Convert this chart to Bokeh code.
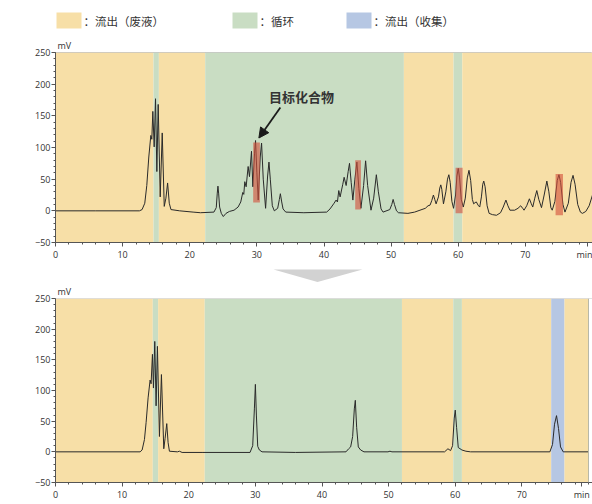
from bokeh.plotting import figure
from bokeh.layouts import column
from bokeh.models import Range1d, SingleIntervalTicker, FixedTicker, Arrow, NormalHead, Span, AllLabels
from bokeh.core.properties import value
from bokeh.embed import file_html
from bokeh.resources import INLINE

# ---------------- data ----------------
legend_labels = ["：流出（废液）", "：循环", "：流出（收集）"]
region_colors = ["#F7DFA7", "#C9DDC3", "#B6C7E3"]  # waste, cycle, collect

y_min, y_max = -50, 250
x_min, x_max = 0, 80
x_major = [0, 10, 20, 30, 40, 50, 60, 70]
x_minor = [2, 4, 6, 8, 12, 14, 16, 18, 22, 24, 26, 28, 32, 34, 36, 38, 42, 44, 46, 48,
           52, 54, 56, 58, 62, 64, 66, 68, 72, 74, 76, 78, 80]
unit_label = "min"
unit_label_pos_top = 79.2
unit_label_pos_bot = 79.0

# top chromatogram (min, mV)
top_t = [0, 6, 12.5, 12.9, 13.3, 13.6, 13.9, 14.2, 14.35, 14.5, 14.7, 14.9, 15.1, 15.3, 15.6, 15.9,
         16.2, 16.45, 16.7, 16.95, 17.2, 18.5, 20.5, 21.6,
         23.6, 23.95, 24.1, 24.2, 24.3, 24.45, 24.7, 25.0, 25.4, 25.9, 26.6, 27.2, 27.6, 27.9, 28.05,
         28.2, 28.4, 28.7, 28.9, 29.2, 29.4, 29.65, 29.8, 30.0, 30.2, 30.5, 30.7, 30.95, 31.3, 31.6,
         31.8, 32.0, 32.3, 32.6, 33.1, 33.35, 33.5, 33.7, 33.9, 34.3, 37,
         40.4, 40.9, 41.5, 41.8, 42.0, 42.2, 42.4, 42.8, 43.0, 43.3, 43.6, 43.8, 44.05, 44.3, 44.6,
         44.9, 45.2, 45.5, 45.9, 46.2, 46.5, 47.0, 47.4, 47.8, 48.1, 48.5, 48.8, 49.8, 50.1, 50.3,
         50.5, 50.8, 51.1,
         52.5, 53.5, 54.3, 55.1, 55.5, 55.8, 56.05, 56.3, 56.5, 56.7, 57.05, 57.25, 57.4, 57.55, 57.8,
         58.15, 58.4, 58.6, 58.8, 59.05, 59.3, 59.6, 59.8, 60.0, 60.2, 60.45, 60.75, 61.05, 61.35,
         61.6, 61.85, 62.1, 62.3, 62.5, 62.7, 62.95, 63.2, 63.45, 63.65, 63.8, 64.0, 64.3, 64.6,
         65.1, 65.7, 66.3, 66.7, 67.1, 67.4, 67.7, 68.4, 68.9, 69.3, 69.6, 69.8, 70.2, 70.6, 70.85,
         71.1, 71.4, 71.7, 72.0, 72.4, 72.8, 73.2, 73.5, 73.8, 74.0, 74.4, 74.75, 75.0, 75.25, 75.6,
         75.9, 76.4, 76.8, 77.1, 77.4, 77.8, 78.2, 78.5, 79.0, 79.5, 80]
top_v = [0, 0, 0, 2, 12, 40, 85, 119, 113, 157, 101, 177, 62, 168, 22, 123,
         7, 20, 44, 12, 2, 0, -2, -3,
         -2, 5, 28, 39, 28, 6, -4, -9, -4, -1, 1, 6, 14, 29, 26,
         46, 38, 70, 54, 94, 38, 90, 111, 60, 17, 85, 107, 50, 4, 55,
         77, 50, 8, 0, 4, 18, 27, 14, 3, -2, -3,
         -2, 3, 12, 17, 14, 32, 22, 42, 53, 40, 62, 75, 45, 17, 50,
         77, 35, 4, 40, 79, 40, 1, 20, 57, 30, 3, -2, 2, 10, 18,
         10, 0, -3,
         -4, -2, 1, 4, 8, 9, 16, 25, 18, 11, 22, 36, 41, 34, 11,
         30, 50, 57, 45, 15, 4, 25, 55, 67, 52, 18, 6, 20, 52,
         64, 48, 18, 11, 13, 14, 9, 6, 22, 42, 47, 38, 8, -4,
         -6, -7, -3, 6, 17, 8, 1, 1, 4, 8, 4, 1, 8, 19, 12,
         6, 20, 32, 18, 5, 25, 47, 30, 5, 1, 15, 48, 57, 45, 10,
         -2, 12, 45, 56, 42, 10, -2, -4, -1, 8, 25]

# top chart background segments (0 waste, 1 cycle)
top_seg_start = [0, 14.6, 15.4, 22.3, 51.9, 59.3, 60.6]
top_seg_end = [14.6, 15.4, 22.3, 51.9, 59.3, 60.6, 80]
top_seg_kind = [0, 1, 0, 1, 0, 1, 0]

# highlighted target peaks
hl_start = [29.45, 44.65, 59.6, 74.5]
hl_end = [30.45, 45.5, 60.65, 75.6]
hl_bottom = [13, 2, -4, -7]
hl_top = [108, 80, 68, 58]

annot_text = "目标化合物"
annot_t, annot_v = 31.8, 181
arrow_from = (33.5, 163)
arrow_to = (30.3, 115)

# bottom chromatogram
bot_t = [0, 12.7, 13.0, 13.35, 13.6, 13.9, 14.2, 14.35, 14.55, 14.7, 14.9, 15.1, 15.3, 15.6, 15.9,
         16.25, 16.45, 16.7, 16.9, 17.1, 18.3, 18.6, 19.0, 22, 29.2, 29.6, 29.85, 30.0, 30.15, 30.35,
         30.6, 31.0, 36, 43.6, 44.0, 44.3, 44.6, 44.85, 45.0, 45.2, 45.45, 45.8, 46.3, 49.9, 50.2,
         50.5, 58.4, 58.9, 59.3, 59.6, 59.85, 60.0, 60.2, 60.45, 61.0, 61.6, 62.3, 74.2, 74.6, 74.9,
         75.2, 75.5, 75.8, 76.2, 80]
bot_v = [0, 0, 3, 20, 48, 88, 117, 111, 159, 104, 180, 75, 172, 25, 126,
         5, 22, 46, 15, 1, 0, 1, -1, -1, -1, 10, 70, 110, 60, 9,
         3, 0, -1, 0, 5, 8, 25, 70, 84, 40, 8, 3, 0, 0, 1,
         0, 0, 5, 2, 10, 55, 68, 40, 7, 3, 1, 0, 0, 12, 45,
         59, 38, 8, 0, 0]

bot_seg_start = [0, 14.6, 15.4, 22.4, 52.0, 59.7, 61.0, 74.4, 76.4]
bot_seg_end = [14.6, 15.4, 22.4, 52.0, 59.7, 61.0, 74.4, 76.4, 80]
bot_seg_kind = [0, 1, 0, 1, 0, 1, 0, 2, 0]
bot_x_view_end = 80.6  # bottom panel shows a little white past 80 min

TICK_FONT = "Open Sans"
CJK_FONT = "Noto Sans CJK SC"
W = 592
FRAME_LEFT = 55


def style_axes(p, label_pos):
    for ax in (p.xaxis[0], p.yaxis[0]):
        ax.axis_line_color = "#555555"
        ax.major_tick_line_color = "#555555"
        ax.minor_tick_line_color = "#555555"
        ax.major_tick_in = 0
        ax.major_tick_out = 4
        ax.minor_tick_in = 0
        ax.minor_tick_out = 2
        ax.major_label_text_font = TICK_FONT
        ax.major_label_text_font_size = "9px"
        ax.major_label_text_color = "#333333"
        ax.major_label_standoff = 1
        ax.major_label_policy = AllLabels()
    p.xaxis.ticker = FixedTicker(ticks=x_major + [label_pos], minor_ticks=x_minor)
    p.yaxis.ticker = SingleIntervalTicker(interval=50, num_minor_ticks=5)
    p.xaxis.major_label_overrides = {label_pos: unit_label}
    p.xgrid.visible = False
    p.ygrid.visible = False


def make_chart(height, btop, bbottom, t, v, s, e, k, x_end, label_pos):
    p = figure(width=W, height=height, x_range=Range1d(x_min, x_end), y_range=Range1d(y_min, y_max),
               output_backend="svg", toolbar_location=None, title="mV",
               min_border_left=FRAME_LEFT, min_border_right=0, min_border_top=btop,
               min_border_bottom=bbottom)
    p.title.text_font = TICK_FONT
    p.title.text_font_size = "9px"
    p.title.text_font_style = "normal"
    p.title.text_color = "#333333"
    p.title.align = "left"
    p.title.offset = 2
    p.title.standoff = 1
    p.quad(left=s, right=e, bottom=y_min, top=y_max,
           fill_color=[region_colors[i] for i in k], line_color=None)
    p.line(t, v, line_color="#2a2a2a", line_width=1)
    style_axes(p, label_pos)
    return p


# ---------------- header (legend) ----------------
HDR_H = 36
hdr = figure(width=W, height=HDR_H, x_range=Range1d(FRAME_LEFT, W), y_range=Range1d(0, HDR_H),
             output_backend="svg", toolbar_location=None, title=None,
             x_axis_type=None, y_axis_type=None, min_border=0)
hdr.outline_line_color = None
hdr.xgrid.visible = False
hdr.ygrid.visible = False
sw_left = [56, 232, 346]
hdr.quad(left=sw_left, right=[l + 25 for l in sw_left], bottom=HDR_H - 28, top=HDR_H - 12,
         fill_color=region_colors, line_color=None)
hdr.text(x=[l + 27 for l in sw_left], y=[HDR_H - 20] * 3, text=legend_labels,
         text_font=value(CJK_FONT), text_font_size="11.5px", text_color="#333333",
         text_baseline="middle", text_align="left")

# ---------------- top chart ----------------
top = make_chart(228, 15, 22, top_t, top_v, top_seg_start, top_seg_end, top_seg_kind, x_max,
                 unit_label_pos_top)
top.outline_line_color = "#c4c4c4"
top.quad(left=hl_start, right=hl_end, bottom=hl_bottom, top=hl_top,
         fill_color="#D4503C", fill_alpha=0.62, line_color=None)
top.text(x=[annot_t], y=[annot_v], text=[annot_text], text_font=value(CJK_FONT),
         text_font_style="bold", text_font_size="13px", text_color="#333333",
         text_baseline="middle", text_align="left")
top.add_layout(Arrow(end=NormalHead(size=10, fill_color="#1a1a1a", line_color="#1a1a1a"),
                     x_start=arrow_from[0], y_start=arrow_from[1],
                     x_end=arrow_to[0], y_end=arrow_to[1],
                     line_color="#1a1a1a", line_width=1.8))

# ---------------- arrow between ----------------
ARR_H = 18
arr = figure(width=W, height=ARR_H, x_range=Range1d(FRAME_LEFT, W), y_range=Range1d(0, ARR_H),
             output_backend="svg", toolbar_location=None, title=None,
             x_axis_type=None, y_axis_type=None, min_border=0)
arr.outline_line_color = None
arr.xgrid.visible = False
arr.ygrid.visible = False
arr.patch(x=[273, 362, 317], y=[ARR_H - 5, ARR_H - 5, 0.5], fill_color="#d2d2d2", line_color=None)

# ---------------- bottom chart ----------------
bot = make_chart(222, 14, 22, bot_t, bot_v, bot_seg_start, bot_seg_end, bot_seg_kind,
                 bot_x_view_end, unit_label_pos_bot)
bot.outline_line_color = None
bot.add_layout(Span(location=y_max, dimension="width", line_color="#c4c4c4", line_width=1))
bot.add_layout(Span(location=x_max, dimension="height", line_color="#b8b8a8", line_width=1))

layout = column(hdr, top, arr, bot)
open("out.html", "w").write(file_html(layout, INLINE))
